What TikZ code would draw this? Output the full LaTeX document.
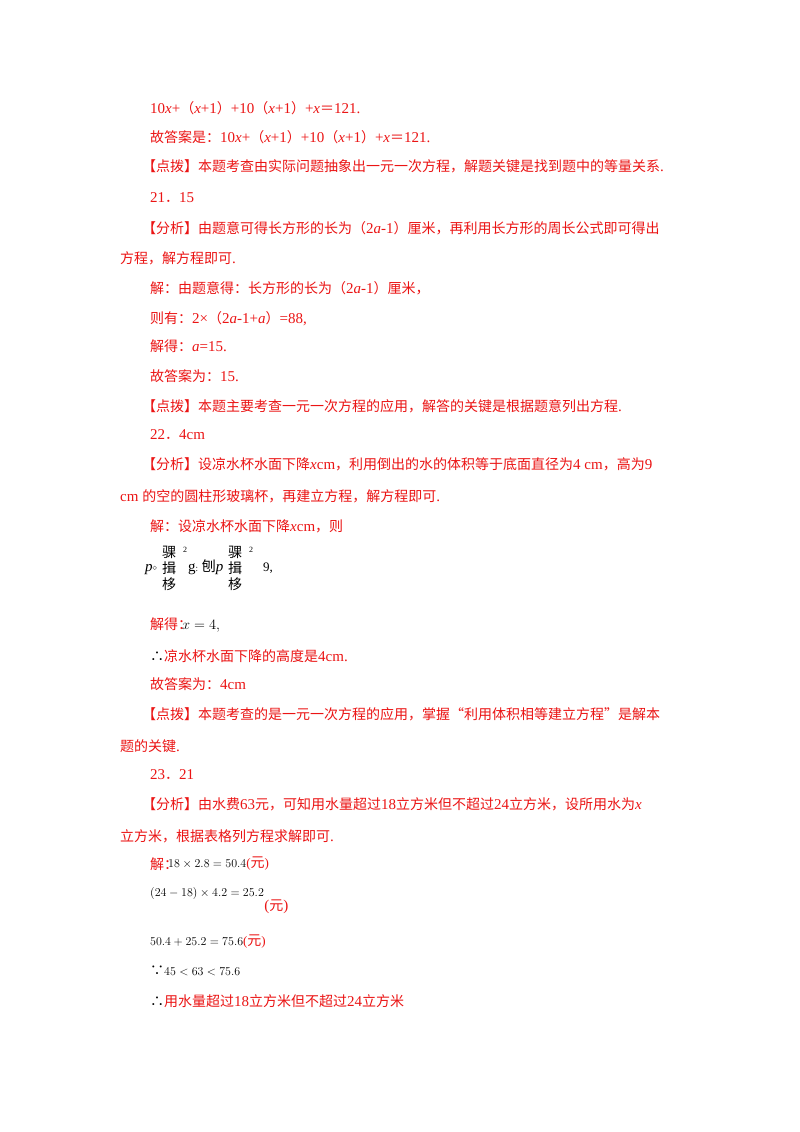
\documentclass[tikz,border=0pt]{standalone}
\usepackage{fontspec}
\setmainfont{Liberation Serif}
\newfontfamily\cjk{Noto Sans CJK SC}
\newcommand{\z}[1]{{\cjk\fontsize{14}{14}\selectfont #1}}
\definecolor{rd}{RGB}{235,20,20}
\begin{document}
\begin{tikzpicture}[x=1pt,y=-1pt,
  t/.style={anchor=base west,inner sep=0,text=rd,font=\fontsize{15}{15}\selectfont},
  k/.style={t,text=black}]
\useasboundingbox[fill=white] (0,0) rectangle (800,1132);
\node[t] (l1) at (150,113) {10\textit{x}+\z{（}\textit{x}+1\z{）}+10\z{（}\textit{x}+1\z{）}+\textit{x}\z{＝}121.};
\node[t] (l2) at (150,142) {\z{故答案是：}10\textit{x}+\z{（}\textit{x}+1\z{）}+10\z{（}\textit{x}+1\z{）}+\textit{x}\z{＝}121.};
\node[t] (l3) at (142,171) {\z{【点拨】本题考查由实际问题抽象出一元一次方程，解题关键是找到题中的等量关系}.};
\node[t] (l4) at (150,202) {21\z{．}15};
\node[t] (l5) at (142,233) {\z{【分析】由题意可得长方形的长为（}2\textit{a}-1\z{）厘米，再利用长方形的周长公式即可得出}};
\node[t] (l6) at (120,263) {\z{方程，解方程即可}.};
\node[t] (l7) at (150,293) {\z{解：由题意得：长方形的长为（}2\textit{a}-1\z{）厘米，}};
\node[t] (l8) at (150,323) {\z{则有：}2×\z{（}2\textit{a}-1+\textit{a}\z{）}=88,};
\node[t] (l9) at (150,351) {\z{解得：}\textit{a}=15.};
\node[t] (l10) at (150,381) {\z{故答案为：}15.};
\node[t] (l11) at (142,411) {\z{【点拨】本题主要考查一元一次方程的应用，解答的关键是根据题意列出方程}.};
\node[t] (l12) at (150,439) {22\z{．}4cm};
\node[t] (l13) at (142,469) {\z{【分析】设凉水杯水面下降}\textit{x}cm\z{，利用倒出的水的体积等于底面直径为}4 cm\z{，高为}9};
\node[t] (l14) at (120,501) {cm \z{的空的圆柱形玻璃杯，再建立方程，解方程即可}.};
\node[t] (l15) at (150,531) {\z{解：设凉水杯水面下降}\textit{x}cm\z{，则}};
\node[k] (f1) at (145,571) {\textit{p}\raisebox{1pt}{\scalebox{0.6}{$\diamond$}}};
\node[k,anchor=north west,font=\fontsize{8}{8}\selectfont] (f2) at (162,546) {\z{\shortstack{骒\\揖\\栘}}};
\node[k,font=\fontsize{8}{8}\selectfont] (f3) at (183,552) {2};
\node[k] (f4) at (188,571) {g\scalebox{0.6}{:} \z{刨}\textit{p}};
\node[k,anchor=north west,font=\fontsize{8}{8}\selectfont] (f5) at (228,546) {\z{\shortstack{骒\\揖\\栘}}};
\node[k,font=\fontsize{8}{8}\selectfont] (f6) at (249,552) {2};
\node[k,font=\fontsize{13}{13}\selectfont] (f7) at (263,571) {9,};
\node[t] (l16) at (150,629) {\z{解得：}};
\node[k] (l16b) at (182,629) {$x=4,$};
\node[t] (l17) at (150,661) {\textcolor{black}{\z{∴}}\z{凉水杯水面下降的高度是}4cm.};
\node[t] (l18) at (150,689) {\z{故答案为：}4cm};
\node[t] (l19) at (142,719) {\z{【点拨】本题考查的是一元一次方程的应用，掌握“利用体积相等建立方程”是解本}};
\node[t] (l20) at (120,751) {\z{题的关键}.};
\node[t] (l21) at (150,779) {23\z{．}21};
\node[t] (l22) at (142,809) {\z{【分析】由水费}63\z{元，可知用水量超过}18\z{立方米但不超过}24\z{立方米，设所用水为}\textit{x}};
\node[t] (l23) at (120,841) {\z{立方米，根据表格列方程求解即可}.};
\node[t] (l24) at (150,869) {\z{解：}};
\node[k,font=\fontsize{13}{13}\selectfont] (l24b) at (168,867) {$18\times2.8=50.4$\textcolor{rd}{(\z{元})}};
\node[k,font=\fontsize{13}{13}\selectfont] (l25) at (150,896) {$(24-18)\times4.2=25.2$};
\node[t] (l25c) at (l25.base east) [anchor=base west,yshift=-14pt] {(\z{元})};
\node[k,font=\fontsize{13}{13}\selectfont] (l26) at (150,945) {$50.4+25.2=75.6$\textcolor{rd}{(\z{元})}};
\node[k,font=\fontsize{13}{13}\selectfont] (l27) at (150,975) {\z{∵}$45<63<75.6$};
\node[t] (l28) at (150,1006) {\textcolor{black}{\z{∴}}\z{用水量超过}18\z{立方米但不超过}24\z{立方米}};
\end{tikzpicture}
\end{document}
